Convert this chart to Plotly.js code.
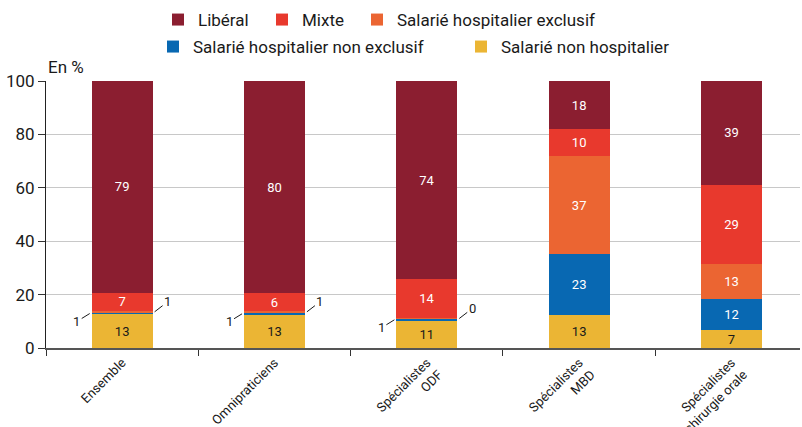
<!DOCTYPE html>
<html><head><meta charset="utf-8">
<script src="https://cdn.plot.ly/plotly-3.0.1.min.js"></script>
<style>html,body{margin:0;padding:0;background:#fff}#chart{width:802px;height:427px}</style>
</head><body><div id="chart"></div>
<script>
// Categories (x axis)
const categories = ['Ensemble', 'Omnipraticiens', 'Spécialistes<br>ODF', 'Spécialistes<br>MBD', 'Spécialistes<br>chirurgie orale'];

// Series values (%) (bottom to top of each stack)
const salNonHosp     = [12.6, 12.4, 10.1, 12.4, 6.7];
const salHospNonExcl = [0.6, 0.8, 0.9, 22.7, 11.6];
const salHospExcl    = [0.7, 0.7, 0.1, 36.8, 13.3];
const mixte          = [6.8, 6.6, 14.7, 10.1, 29.6];
const liberal        = [79.3, 79.5, 74.2, 18.0, 38.8];

// Printed labels
const lblSalNonHosp     = ['13', '13', '11', '13', '7'];
const lblSalHospNonExcl = ['1', '1', '1', '23', '12'];
const lblSalHospExcl    = ['1', '1', '0', '37', '13'];
const lblMixte          = ['7', '6', '14', '10', '29'];
const lblLiberal        = ['79', '80', '74', '18', '39'];

const seriesNames = ['Salarié non hospitalier', 'Salarié hospitalier non exclusif', 'Salarié hospitalier exclusif', 'Mixte', 'Libéral'];
const seriesValues = [salNonHosp, salHospNonExcl, salHospExcl, mixte, liberal];
const seriesLabels = [lblSalNonHosp, lblSalHospNonExcl, lblSalHospExcl, lblMixte, lblLiberal];
const seriesColors = ['#EBB534', '#0868B2', '#EB6532', '#E8392D', '#8B1E30'];
const textColors   = ['#1a1a1a', '#ffffff', '#ffffff', '#ffffff', '#ffffff'];
const legendIds    = ['legend5', 'legend4', 'legend3', 'legend2', 'legend'];

const FONT = 'Roboto, "Noto Sans", sans-serif';
const MIN_INSIDE = 3;

const traces = seriesNames.map((name, s) => ({
  type: 'bar',
  name: name,
  x: categories,
  y: seriesValues[s],
  width: 0.4,
  marker: {color: seriesColors[s], line: {width: 0}},
  text: seriesValues[s].map((v, i) => v >= MIN_INSIDE ? seriesLabels[s][i] : ''),
  textposition: 'inside',
  insidetextanchor: 'middle',
  textangle: 0,
  constraintext: 'none',
  textfont: {family: FONT, size: 13, color: textColors[s]},
  hoverinfo: 'skip',
  legend: legendIds[s]
}));

// leader-line labels for tiny segments
const annotations = [];
categories.forEach((c, i) => {
  let base = 0;
  seriesValues.forEach((vals, s) => {
    const v = vals[i];
    if (v < MIN_INSIDE) {
      const left = (s === 1);
      annotations.push({
        x: left ? i - 0.213 : i + 0.213,
        y: base + v / 2,
        xref: 'x', yref: 'y',
        text: seriesLabels[s][i],
        showarrow: true, arrowhead: 0, arrowwidth: 1, arrowcolor: '#1a1a1a',
        standoff: 0,
        ax: left ? -13 : 13,
        ay: left ? 8 : -10,
        font: {family: FONT, size: 13, color: '#1a1a1a'}
      });
    }
    base += v;
  });
});
annotations.push({
  xref: 'paper', yref: 'paper', x: 0, y: 1, xanchor: 'left', yanchor: 'bottom', yshift: 2,
  text: 'En %', showarrow: false, font: {family: FONT, size: 17, color: '#1a1a1a'}
});

function leg(px, py) {
  return {
    orientation: 'h', xref: 'container', yref: 'container',
    x: px / 802, y: 1 - py / 427, xanchor: 'left', yanchor: 'middle',
    font: {family: FONT, size: 17, color: '#1a1a1a'}, bgcolor: 'rgba(0,0,0,0)', borderwidth: 0
  };
}

const layout = {
  width: 802, height: 427,
  margin: {l: 46, r: 2, t: 81, b: 79},
  paper_bgcolor: '#ffffff', plot_bgcolor: '#ffffff',
  barmode: 'stack',
  font: {family: FONT, color: '#1a1a1a'},
  showlegend: true,
  legend: leg(158, 20),
  legend2: leg(262, 20),
  legend3: leg(357, 20),
  legend4: leg(153, 47),
  legend5: leg(461, 47),
  xaxis: {
    type: 'category', range: [-0.5, 4.45],
    ticks: 'outside', tickson: 'boundaries', ticklen: 6, tickcolor: '#333',
    showline: true, linecolor: '#555', linewidth: 2,
    tickangle: -45, tickfont: {family: FONT, size: 13, color: '#1a1a1a'},
    showgrid: false, zeroline: false, fixedrange: true
  },
  yaxis: {
    range: [0, 100], dtick: 20, tick0: 0,
    ticks: 'outside', ticklen: 7, tickcolor: '#333',
    showline: true, linecolor: '#222', linewidth: 1,
    gridcolor: '#c8c8c8', gridwidth: 1, zeroline: false,
    tickfont: {family: FONT, size: 17, color: '#1a1a1a'}, fixedrange: true
  },
  annotations: annotations
};

Plotly.newPlot('chart', traces, layout, {displayModeBar: false, staticPlot: true});
</script>
</body></html>
